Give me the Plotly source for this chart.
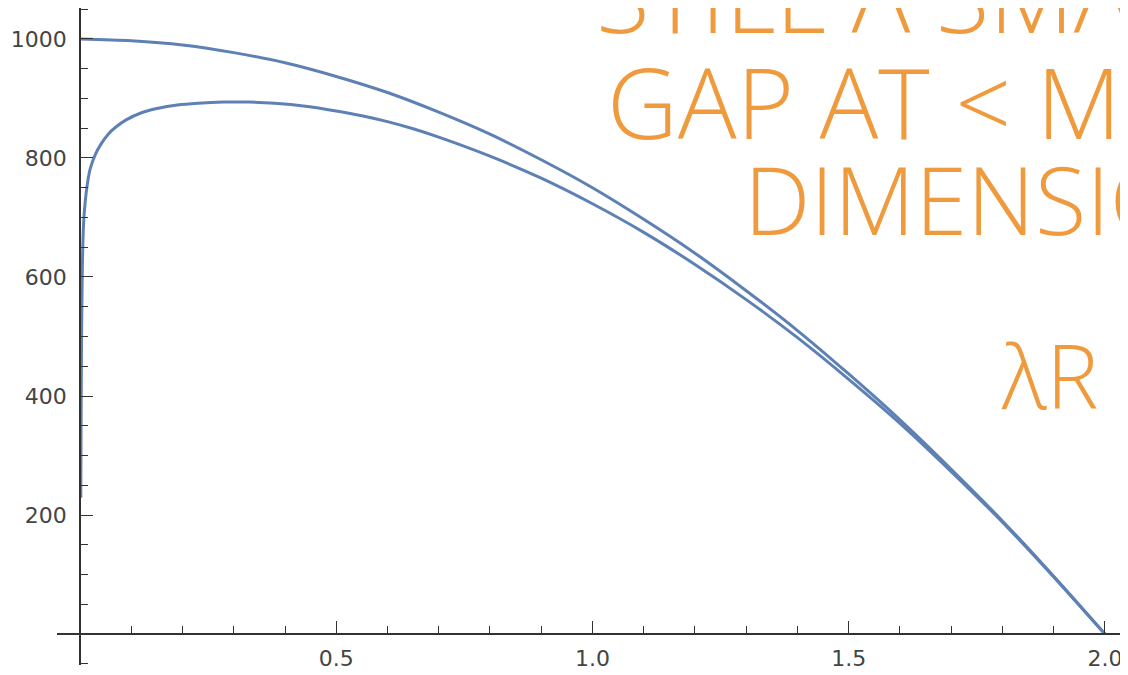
import plotly.graph_objects as go

# ---- data ----
upper_x = [0.0, 0.1, 0.2, 0.3, 0.4, 0.5, 0.6, 0.7, 0.8, 0.9, 1.0,
           1.1, 1.2, 1.3, 1.4, 1.5, 1.6, 1.7, 1.8, 1.9, 2.0]
upper_y = [1000, 997, 990, 977, 960, 937, 910, 877, 840, 797, 750,
           697, 640, 577, 510, 437, 360, 277, 190, 97, 0]

lower_x = [0.0015, 0.002, 0.0025, 0.003, 0.004, 0.005, 0.007, 0.01, 0.015,
           0.02, 0.03, 0.04, 0.055, 0.07, 0.09, 0.12, 0.15, 0.19, 0.23, 0.28,
           0.33, 0.38, 0.44, 0.5, 0.55, 0.6, 0.65, 0.7, 0.8, 0.9, 1.0, 1.1,
           1.2, 1.3, 1.4, 1.5, 1.6, 1.7, 1.8, 1.9, 2.0]
lower_y = [229, 330, 420, 500, 580, 635, 690, 725, 760,
           782, 806, 822, 840, 852, 864, 876, 883, 889, 892, 894,
           894, 892, 887, 879, 871, 861, 849, 835, 803, 766, 723, 675,
           621, 562, 498, 428, 354, 273, 188, 96, 0]

x_major = [0.5, 1.0, 1.5, 2.0]
x_major_text = ["0.5", "1.0", "1.5", "2.0"]
y_major = [200, 400, 600, 800, 1000]
y_major_text = ["200", "400", "600", "800", "1000"]

notes = ["STILL A SMALL", "GAP AT < MAX", "DIMENSION", "λR"]

# ---- style ----
LINE = "#5E81B5"
AXIS = "#333333"
TXT = "#444444"
ORANGE = "#EF9A3C"

XR = [-0.0449, 2.045]
YR = [-52, 1052]

fig = go.Figure()
fig.add_trace(go.Scatter(x=upper_x, y=upper_y, mode="lines",
                         line=dict(color=LINE, width=3, shape="spline", smoothing=0.8),
                         hoverinfo="skip", showlegend=False))
fig.add_trace(go.Scatter(x=lower_x, y=lower_y, mode="lines",
                         line=dict(color=LINE, width=3, shape="spline", smoothing=0.6),
                         hoverinfo="skip", showlegend=False))

xpos = (0 - YR[0]) / (YR[1] - YR[0])
ypos = (0 - XR[0]) / (XR[1] - XR[0])

# the page body adds an 8px offset, so the figure is sized/margined to compensate
fig.update_layout(
    width=1120, height=667,
    margin=dict(l=49, r=0, t=0, b=10),
    paper_bgcolor="white", plot_bgcolor="white",
    showlegend=False,
    xaxis=dict(range=XR, anchor="free", position=xpos,
               showgrid=False, zeroline=False, showline=True,
               linecolor=AXIS, linewidth=1.5,
               tickmode="array", tickvals=x_major, ticktext=x_major_text,
               ticks="inside", ticklen=12, tickwidth=1.4, tickcolor=AXIS,
               ticklabelstandoff=5,
               tickfont=dict(family="DejaVu Sans", size=22, color=TXT),
               minor=dict(tickmode="linear", tick0=0, dtick=0.1, ticks="inside",
                          ticklen=7, tickwidth=1.2, tickcolor=AXIS, showgrid=False)),
    yaxis=dict(range=YR, anchor="free", position=ypos,
               showgrid=False, zeroline=False, showline=True,
               linecolor=AXIS, linewidth=1.5,
               tickmode="array", tickvals=y_major, ticktext=y_major_text,
               ticks="inside", ticklen=12, tickwidth=1.4, tickcolor=AXIS,
               ticklabelstandoff=8,
               tickfont=dict(family="DejaVu Sans", size=22, color=TXT),
               minor=dict(tickmode="linear", tick0=0, dtick=50, ticks="inside",
                          ticklen=7, tickwidth=1.2, tickcolor=AXIS, showgrid=False)),
)

# handwritten-style notes (paper coordinates)
note_pos = [(0.501, 1.02, 98), (0.512, 0.858, 98), (0.640, 0.710, 94), (0.880, 0.441, 88)]
for txt, (nx, ny, fs) in zip(notes, note_pos):
    fig.add_annotation(x=nx, y=ny, xref="paper", yref="paper", text=txt, showarrow=False,
                       xanchor="left", yanchor="middle",
                       font=dict(family="Open Sans", size=fs, color=ORANGE, weight=300))

fig.write_html("out.html")
